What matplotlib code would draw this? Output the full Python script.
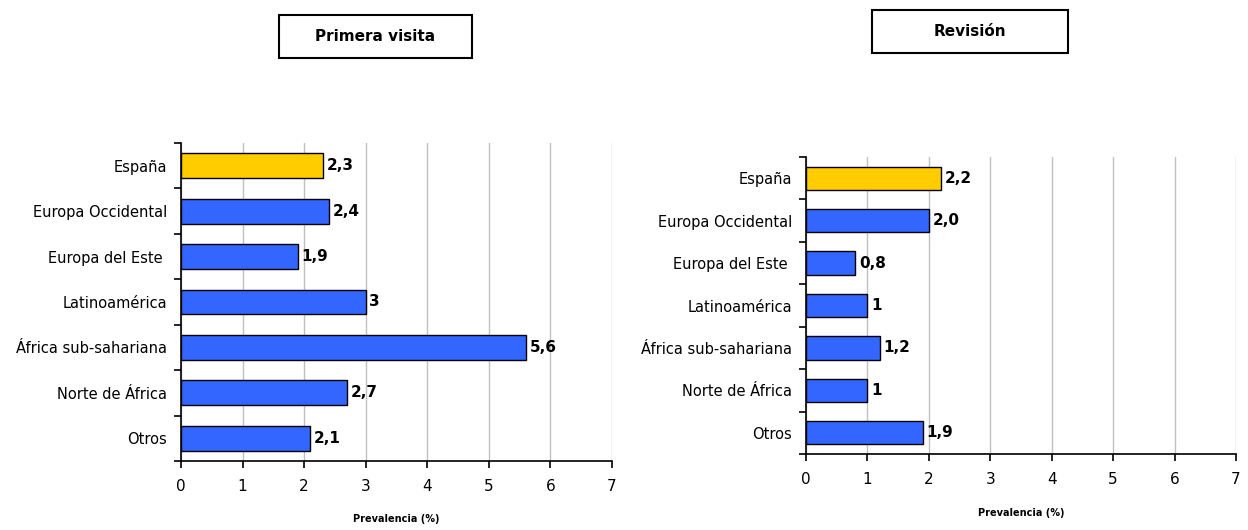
import matplotlib.pyplot as plt
import numpy as np

categorias = ['España', 'Europa Occidental', 'Europa del Este ', 'Latinoamérica',
              'África sub-sahariana', 'Norte de África', 'Otros']
primera_visita = [2.3, 2.4, 1.9, 3.0, 5.6, 2.7, 2.1]
primera_etiquetas = ['2,3', '2,4', '1,9', '3', '5,6', '2,7', '2,1']
revision = [2.2, 2.0, 0.8, 1.0, 1.2, 1.0, 1.9]
revision_etiquetas = ['2,2', '2,0', '0,8', '1', '1,2', '1', '1,9']
colores = ['#FFCC00'] + ['#3366FF'] * 6
xticks = [0, 1, 2, 3, 4, 5, 6, 7]

plt.rcParams['font.family'] = 'DejaVu Sans'
fig = plt.figure(figsize=(12.48, 5.30), dpi=100)

W, H = 1248, 530
# panel placement in pixels: (left, right, top, bottom)
paneles = [
    (181, 612, 143, 461, primera_visita, primera_etiquetas, 'Primera visita', (279, 472, 15, 58), 519),
    (806, 1236, 157, 454, revision, revision_etiquetas, 'Revisión', (872, 1068, 10, 53), 513),
]

for l, r, t, b, valores, etiquetas, titulo, caja, ylab in paneles:
    ax = fig.add_axes([l / W, 1 - b / H, (r - l) / W, (b - t) / H])
    y = np.arange(len(categorias))
    ax.barh(y, valores, height=0.55, color=colores, edgecolor='black', linewidth=1.0, zorder=3)
    for yi, v, lab in zip(y, valores, etiquetas):
        ax.text(v + 0.06, yi, lab, va='center', ha='left', fontsize=11, fontweight='bold', zorder=4)
    ax.set_xlim(0, 7)
    ax.set_ylim(len(categorias) - 0.5, -0.5)
    ax.set_xticks(xticks)
    ax.set_xticklabels([str(x) for x in xticks], fontsize=11)
    ax.set_yticks(y)
    ax.set_yticklabels(categorias, fontsize=10.5)
    ax.set_yticks(np.arange(-0.5, len(categorias), 1), minor=True)
    ax.tick_params(axis='y', which='major', length=0, pad=10)
    ax.tick_params(axis='y', which='minor', length=5, width=1.2, direction='out')
    ax.tick_params(axis='x', length=5, width=1.2, direction='out', pad=8)
    ax.grid(axis='x', color='#C0C0C0', linewidth=1.0, zorder=0)
    for s in ['top', 'right']:
        ax.spines[s].set_visible(False)
    for s in ['left', 'bottom']:
        ax.spines[s].set_linewidth(1.2)
    fig.text((l + r) / 2 / W, 1 - ylab / H, 'Prevalencia (%)', ha='center', va='center',
             fontsize=7, fontweight='bold')
    bx0, bx1, by0, by1 = caja
    fig.patches.append(plt.Rectangle((bx0 / W, 1 - by1 / H), (bx1 - bx0) / W, (by1 - by0) / H,
                                     transform=fig.transFigure, fill=False, edgecolor='black',
                                     linewidth=1.5))
    fig.text((bx0 + bx1) / 2 / W, 1 - (by0 + by1) / 2 / H, titulo, ha='center', va='center',
             fontsize=11, fontweight='bold')

fig.savefig('out.png', dpi=100)
